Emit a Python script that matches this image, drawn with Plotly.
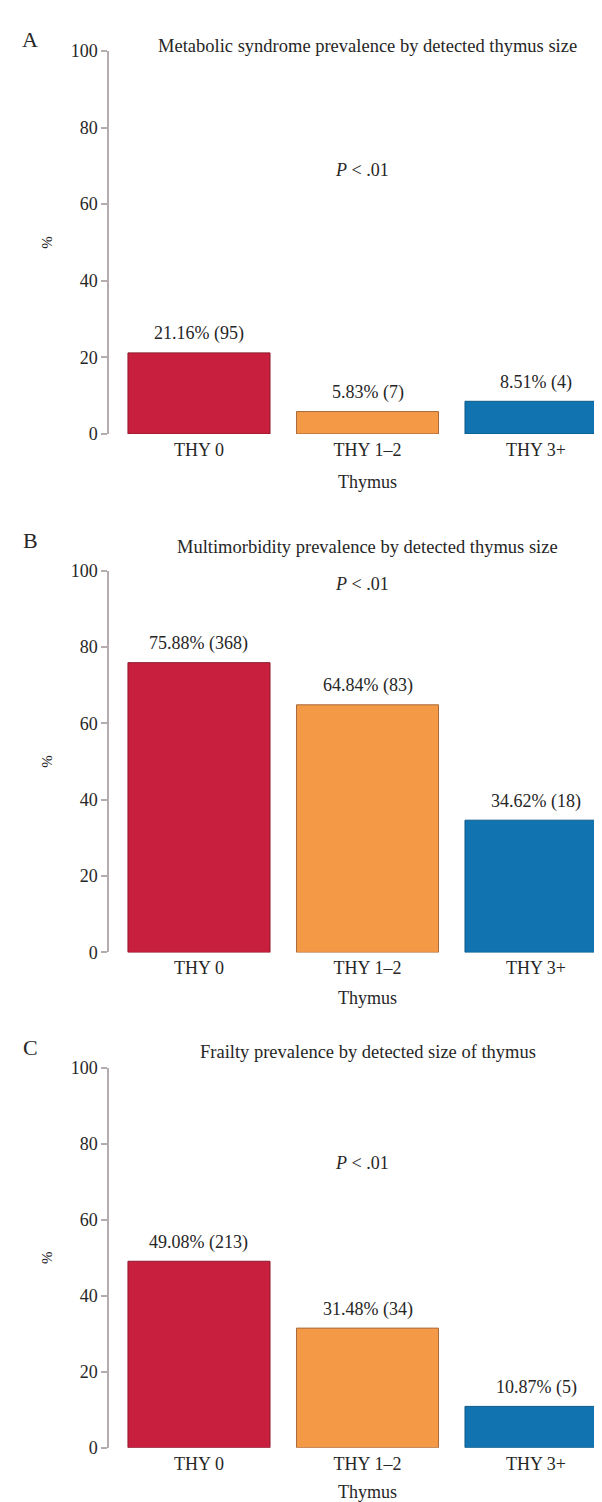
import plotly.graph_objects as go

categories = ["THY 0", "THY 1\u20132", "THY 3+"]
colors = ["#C91F3E", "#F49A47", "#1174B0"]
line_colors = ["#8E1A2C", "#A8693A", "#0D5A88"]

panel_letters = ["A", "B", "C"]
panel_titles = [
    "Metabolic syndrome prevalence by detected thymus size",
    "Multimorbidity prevalence by detected thymus size",
    "Frailty prevalence by detected size of thymus",
]
metabolic_pct = [21.16, 5.83, 8.51]
metabolic_n = [95, 7, 4]
multimorbidity_pct = [75.88, 64.84, 34.62]
multimorbidity_n = [368, 83, 18]
frailty_pct = [49.08, 31.48, 10.87]
frailty_n = [213, 34, 5]
p_text = "<i>P</i> < .01"
p_y = [69, 96.5, 75]
y_ticks = [0, 20, 40, 60, 80, 100]
x_title = "Thymus"
y_title = "%"

series = [
    (metabolic_pct, metabolic_n),
    (multimorbidity_pct, multimorbidity_n),
    (frailty_pct, frailty_n),
]

W, H = 602, 1502
# pixel positions (from top) of y=0 and y=100 for each panel
zero_px = [421.5, 947, 1449]
hundred_px = [33.5, 560, 1064]
title_px = [28, 536, 1048]
letter_px = [22, 530, 1043]
xtitle_shift = [48.5, 46, 44]

FONT = "Liberation Serif, Times New Roman, serif"
TXT = "#262626"
AX = "#B5ADAD"
FS = 18

fig = go.Figure()
annotations = []
layout_axes = {}

for i in range(3):
    vals, ns = series[i]
    suffix = "" if i == 0 else str(i + 1)
    xa, ya = "x" + suffix, "y" + suffix
    fig.add_trace(go.Bar(
        x=categories, y=vals,
        marker=dict(color=colors, line=dict(color=line_colors, width=1)),
        width=0.843,
        xaxis=xa, yaxis=ya, showlegend=False, hoverinfo="x+y",
    ))
    dom = [1 - zero_px[i] / H, 1 - hundred_px[i] / H]
    layout_axes["xaxis" + suffix] = dict(
        domain=[101 / W, 1], anchor=ya, range=[-0.534, 2.439],
        showline=False, ticks="", showgrid=False, zeroline=False,
        tickfont=dict(family=FONT, size=FS, color=TXT),
        ticklabelstandoff=3,
    )
    layout_axes["yaxis" + suffix] = dict(
        domain=dom, anchor=xa, range=[0, 100], tickvals=y_ticks,
        showline=True, linecolor=AX, linewidth=1.5,
        ticks="outside", ticklen=6, tickcolor=AX, tickwidth=1.5,
        showgrid=False, zeroline=False,
        tickfont=dict(family=FONT, size=FS, color=TXT),
        title=dict(text=y_title, font=dict(family=FONT, size=15, color=TXT), standoff=14),
    )
    # bar labels
    for c, v, n in zip(categories, vals, ns):
        annotations.append(dict(
            x=c, y=v, xref=xa, yref=ya, text=f"{v:.2f}% ({n})",
            showarrow=False, yanchor="middle", yshift=19,
            font=dict(family=FONT, size=FS, color=TXT),
        ))
    # x axis title
    annotations.append(dict(
        x=categories[1], y=0, xref=xa, yref=ya, text=x_title,
        showarrow=False, yanchor="middle", yshift=-xtitle_shift[i],
        font=dict(family=FONT, size=FS, color=TXT),
    ))
    # panel title
    annotations.append(dict(
        x=categories[1], y=1 - title_px[i] / H, xref=xa, yref="paper",
        text=panel_titles[i], showarrow=False, yanchor="middle",
        font=dict(family=FONT, size=18.5, color=TXT),
    ))
    # P value
    annotations.append(dict(
        x=0.97, y=p_y[i], xref=xa, yref=ya, text=p_text,
        showarrow=False, yanchor="middle",
        font=dict(family=FONT, size=FS, color=TXT),
    ))
    # panel letter
    annotations.append(dict(
        x=22 / W, y=1 - letter_px[i] / H, xref="paper", yref="paper",
        text=panel_letters[i], showarrow=False, xanchor="center", yanchor="middle",
        font=dict(family=FONT, size=22, color=TXT),
    ))

fig.update_layout(
    width=W, height=H,
    margin=dict(l=0, r=0, t=0, b=0),
    paper_bgcolor="white", plot_bgcolor="white",
    annotations=annotations,
    **layout_axes,
)

fig.write_html("out.html")
